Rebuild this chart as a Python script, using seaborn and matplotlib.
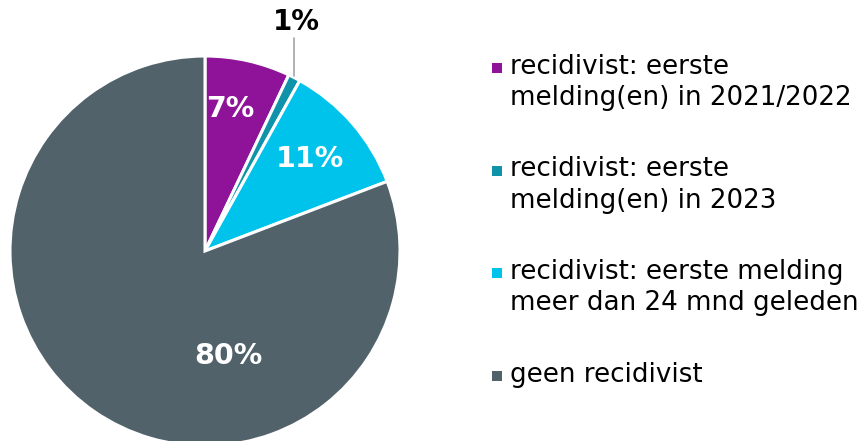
import matplotlib
matplotlib.use("Agg")
import matplotlib.pyplot as plt
import seaborn as sns
import numpy as np

sns.set_theme(style="white")
plt.rcParams['font.family'] = ['DejaVu Sans']

# data
categories = [
    "recidivist: eerste\nmelding(en) in 2021/2022",
    "recidivist: eerste\nmelding(en) in 2023",
    "recidivist: eerste melding\nmeer dan 24 mnd geleden",
    "geen recidivist",
]
shares = [7, 1, 11, 80]
colors = ["#8E1398", "#0E93A8", "#00C3EB", "#51626B"]

W, H = 866, 441
fig = plt.figure(figsize=(W / 100, H / 100), dpi=100)

# pie axes: centre ~ (205, 251) px, radius ~195 px
cx, cy, r = 205, 251, 195
ax = fig.add_axes([(cx - r) / W, (H - cy - r) / H, 2 * r / W, 2 * r / H])
wedges, _ = ax.pie(shares, colors=colors, startangle=90, counterclock=False,
                   radius=1, wedgeprops=dict(edgecolor="white", linewidth=2.2))
ax.set_xlim(-1, 1)
ax.set_ylim(-1, 1)
ax.set_aspect("equal")
ax.axis("off")

# labels (positions chosen like Excel's best fit)
label_pos = [(0.13, 0.73), None, (0.54, 0.47), (0.12, -0.54)]
for w, val, pos in zip(wedges, shares, label_pos):
    txt = f"{val}%"
    if pos is None:
        # outside label with leader line
        ang = np.deg2rad((w.theta1 + w.theta2) / 2)
        x0, y0 = np.cos(ang), np.sin(ang)
        ax.plot([x0, x0], [y0 + 0.01, 1.09], color="#A6A6A6", lw=1.2, clip_on=False)
        ax.text(x0 + 0.01, 1.135, txt, ha="center", va="baseline", fontsize=20,
                fontweight="bold", color="black", clip_on=False)
    else:
        ax.text(pos[0], pos[1], txt, ha="center", va="center", fontsize=20.5,
                fontweight="bold", color="white")

# legend drawn as text + squares
top0, pitch = 54, 102.5
for i, (lab, col) in enumerate(zip(categories, colors)):
    ytop = top0 + i * pitch
    fig.text(510 / W, 1 - ytop / H, lab, ha="left", va="top", fontsize=18.8,
             color="black", linespacing=1.25)
    fig.patches.append(plt.Rectangle((492 / W, 1 - (ytop + 19) / H), 10 / W, 10 / H,
                                     transform=fig.transFigure, facecolor=col,
                                     edgecolor="none"))

fig.savefig("out.png", dpi=100)
